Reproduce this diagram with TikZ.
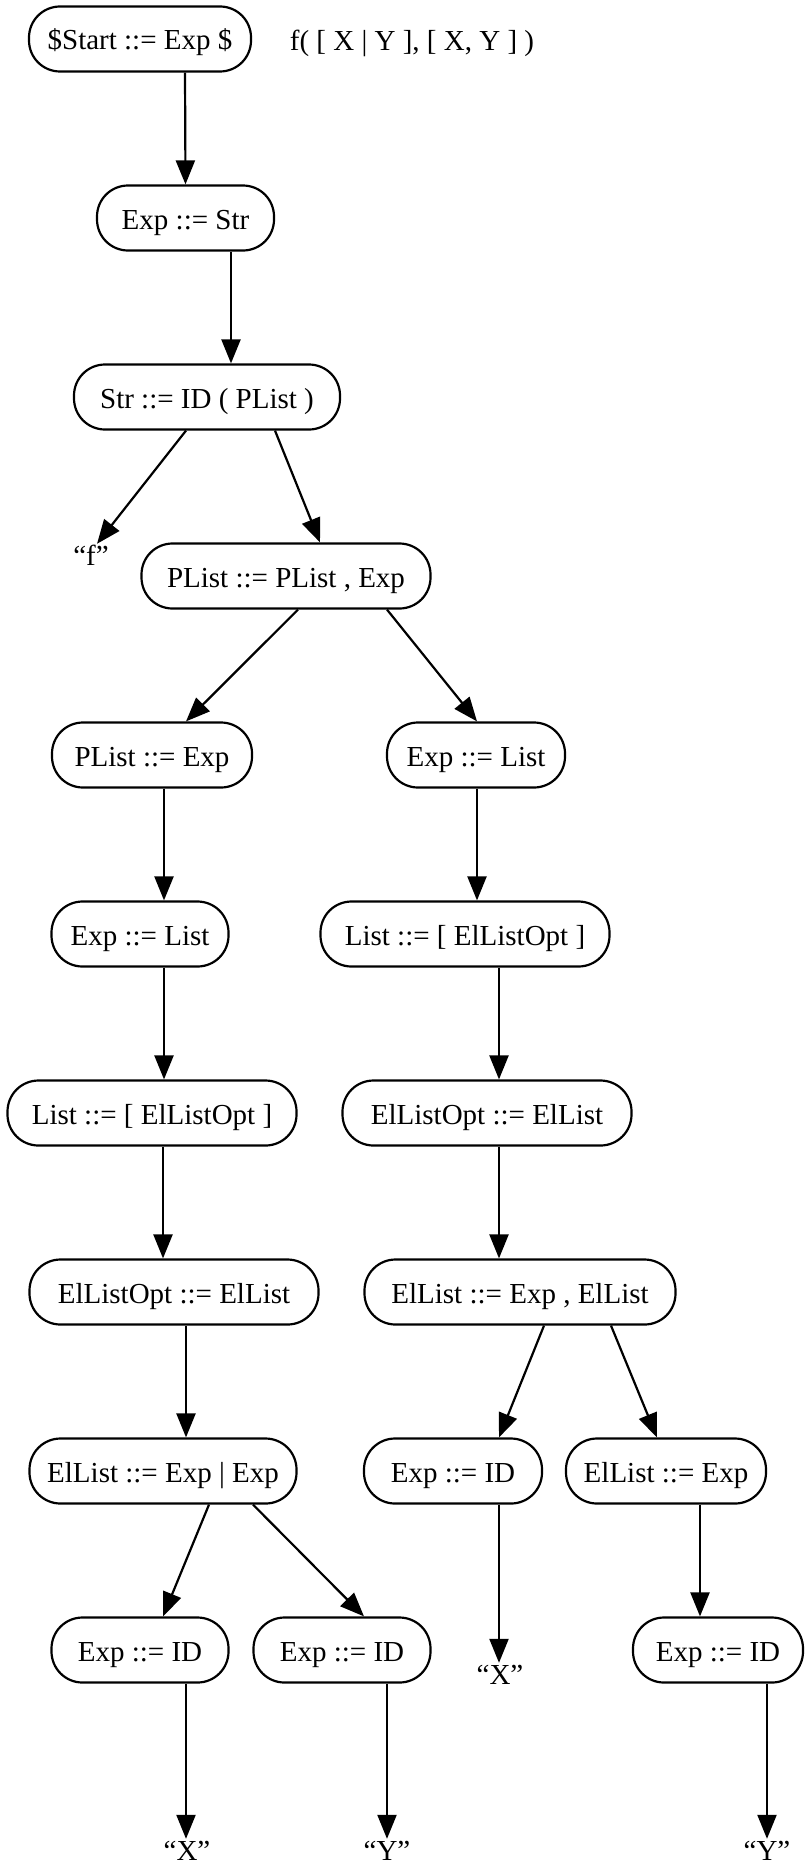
\documentclass[tikz,border=0pt]{standalone}
\usepackage{fontspec}
\setmainfont{Liberation Serif}
\usetikzlibrary{arrows.meta}
\begin{document}
\begin{tikzpicture}[x=1pt,y=-1pt,
  rule/.style={draw, line width=2.2pt, rounded corners=31pt, minimum height=65pt,
    inner sep=0pt, text height=26pt, text depth=4pt, font=\fontsize{29}{34}\selectfont},
  leaf/.style={inner sep=0pt, text height=21pt, text depth=0pt, anchor=base,
    font=\fontsize{29}{34}\selectfont},
  edge/.style={line width=2.2pt, -{Triangle[length=24pt,width=19pt]}}]
\useasboundingbox (0,0) rectangle (805,1865);
% nodes
\node[rule, minimum width=222pt] (n0) at (140,39) {\$Start ::= Exp \$};
\node[leaf] (t0) at (412,51) {f( [ X | Y ], [ X, Y ] )};
\node[rule, minimum width=177pt] (n1) at (185.5,218) {Exp ::= Str};
\node[rule, minimum width=266pt] (n2) at (207,397) {Str ::= ID ( PList )};
\node[leaf] (lf) at (91,565) {“f”};
\node[rule, minimum width=289pt] (n3) at (286,576) {PList ::= PList , Exp};
\node[rule, minimum width=200pt] (n4) at (152,755) {PList ::= Exp};
\node[rule, minimum width=178pt] (n5) at (476,755) {Exp ::= List};
\node[rule, minimum width=177pt] (n6) at (140,934) {Exp ::= List};
\node[rule, minimum width=289pt] (n7) at (465,934) {List ::= [ ElListOpt ]};
\node[rule, minimum width=289pt] (n8) at (152,1113) {List ::= [ ElListOpt ]};
\node[rule, minimum width=289pt] (n9) at (487,1113) {ElListOpt ::= ElList};
\node[rule, minimum width=289pt] (n10) at (174,1292) {ElListOpt ::= ElList};
\node[rule, minimum width=311pt] (n11) at (520,1292) {ElList ::= Exp , ElList};
\node[rule, minimum width=267pt] (n12) at (163,1471) {ElList ::= Exp | Exp};
\node[rule, minimum width=178pt] (n13) at (453,1471) {Exp ::= ID};
\node[rule, minimum width=200pt] (n14) at (666,1471) {ElList ::= Exp};
\node[rule, minimum width=177pt] (n15) at (140,1650) {Exp ::= ID};
\node[rule, minimum width=177pt] (n16) at (342,1650) {Exp ::= ID};
\node[rule, minimum width=170pt] (n17) at (718,1650) {Exp ::= ID};
\node[leaf] (lx1) at (500,1684) {“X”};
\node[leaf] (lx2) at (187,1860) {“X”};
\node[leaf] (ly1) at (387,1860) {“Y”};
\node[leaf] (ly2) at (767,1860) {“Y”};
% edges
\draw[edge] ([xshift=45pt]n0.south) -- (n1.north);
\draw[edge] ([xshift=45.5pt]n1.south) -- ([xshift=24pt]n2.north);
\draw[edge] ([xshift=-21pt]n2.south) -- ([xshift=6pt]lf.north);
\draw[edge] ([xshift=68pt]n2.south) -- ([xshift=34pt]n3.north);
\draw[edge] ([xshift=12pt]n3.south) -- ([xshift=34pt]n4.north);
\draw[edge] ([xshift=101pt]n3.south) -- ([xshift=1pt]n5.north);
\draw[edge] ([xshift=12pt]n4.south) -- ([xshift=24pt]n6.north);
\draw[edge] ([xshift=24pt]n6.south) -- ([xshift=12pt]n8.north);
\draw[edge] ([xshift=11pt]n8.south) -- ([xshift=-11pt]n10.north);
\draw[edge] ([xshift=12pt]n10.south) -- ([xshift=23pt]n12.north);
\draw[edge] ([xshift=1pt]n5.south) -- ([xshift=12pt]n7.north);
\draw[edge] ([xshift=34pt]n7.south) -- ([xshift=12pt]n9.north);
\draw[edge] ([xshift=12pt]n9.south) -- ([xshift=-21pt]n11.north);
\draw[edge] ([xshift=46pt]n12.south) -- ([xshift=23pt]n15.north);
\draw[edge] ([xshift=90pt]n12.south) -- ([xshift=22pt]n16.north);
\draw[edge] ([xshift=24pt]n11.south) -- ([xshift=46pt]n13.north);
\draw[edge] ([xshift=91pt]n11.south) -- ([xshift=-9pt]n14.north);
\draw[edge] ([xshift=46pt]n13.south) -- ([xshift=-1pt]lx1.north);
\draw[edge] ([xshift=34pt]n14.south) -- ([xshift=-18pt]n17.north);
\draw[edge] ([xshift=46pt]n15.south) -- ([xshift=-1pt]lx2.north);
\draw[edge] ([xshift=45pt]n16.south) -- (ly1.north);
\draw[edge] ([xshift=49pt]n17.south) -- (ly2.north);
\end{tikzpicture}
\end{document}
